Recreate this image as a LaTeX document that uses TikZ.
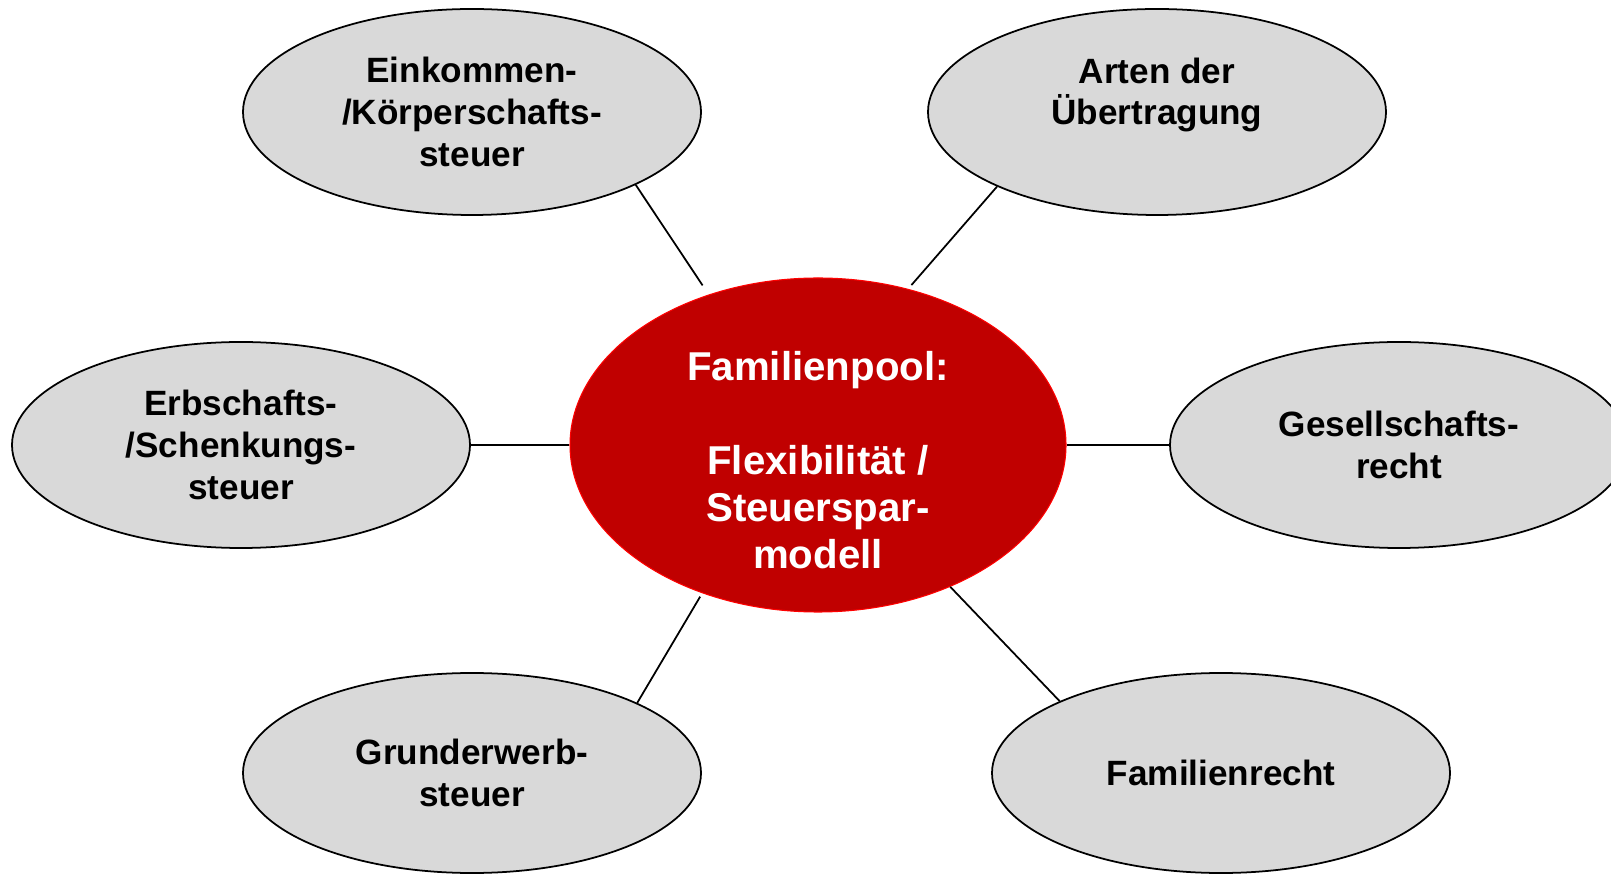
\documentclass[tikz,border=0pt]{standalone}
\usepackage{fontspec}
\setmainfont{Liberation Sans}
\definecolor{POOLred}{HTML}{C00000}
\definecolor{POOLrim}{HTML}{FF0000}
\definecolor{POOLgray}{HTML}{D9D9D9}
\usetikzlibrary{shapes.geometric, positioning}

\begin{document}
\begin{tikzpicture}[
      topic/.style={ellipse, draw=black, line width=1pt, fill=POOLgray,
         minimum width=9.16cm, minimum height=4.12cm, inner sep=0pt,
         align=center, font=\fontsize{20}{23.7}\selectfont\bfseries},
      lowtopic/.style={topic, minimum height=4.0cm},
      pool/.style={ellipse, draw=POOLrim, line width=0.6pt, fill=POOLred,
         minimum width=9.92cm, minimum height=6.68cm, inner sep=0pt},
      pooltext/.style={align=center, text=white,
         font=\fontsize{22.9}{26.7}\selectfont\bfseries},
      link/.style={line width=1pt}
   ]
      \useasboundingbox (0,0) rectangle (32.22,17.52);
      % Centre ellipse
      \node[pool] (pool) at (16.36,8.62) {};
      \node[pooltext] (pooltxt) at ([yshift=-0.3cm]pool.center)
         {Familienpool:\\~\\Flexibilität /\\Steuerspar-\\modell};
      % Topics around it
      \node[topic] (income) at (9.44,15.28) {Einkommen-\\/Körperschafts-\\steuer};
      \node[topic] (transfer) at (23.14,15.28) {Arten der\\Übertragung\\\mbox{}};
      \node[topic] (inherit) at (4.82,8.62) {Erbschafts-\\/Schenkungs-\\steuer};
      \node[topic] (company) at (27.98,8.62) {Gesellschafts-\\recht};
      \node[lowtopic] (landtax) at (9.44,2.06) {Grunderwerb-\\steuer};
      \node[lowtopic] (family) at (24.42,2.06) {Familienrecht};
      % Spokes
      \draw[link, shorten >=0.22cm] (income.-24) -- (pool.126);
      \draw[link, shorten >=0.1cm] (transfer.205) -- (pool.60);
      \draw[link] (inherit.east) -- (pool.west);
      \draw[link] (pool.east) -- (company.west);
      \draw[link, shorten <=0.08cm] (pool.232) -- (landtax.23);
      \draw[link] (pool.-47) -- (family.156);
   \end{tikzpicture}
\end{document}
